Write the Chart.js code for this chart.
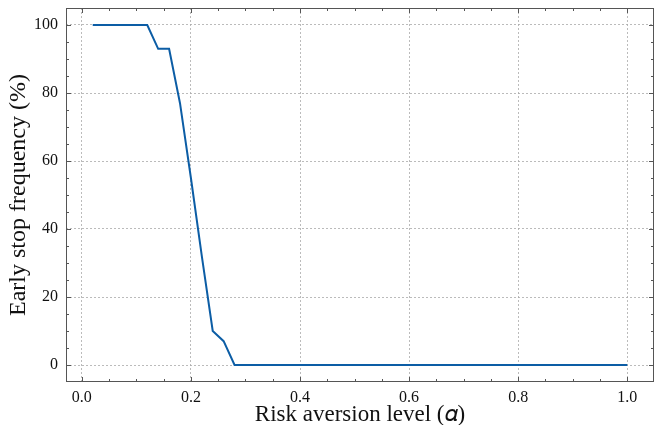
<!DOCTYPE html>
<html>
<head>
<meta charset="utf-8">
<script src="https://cdn.jsdelivr.net/npm/chart.js@4"></script>
<style>
  html, body { margin: 0; padding: 0; background: #fff; }
</style>
</head>
<body>
<canvas id="chart" width="655" height="425"></canvas>
<script>
// risk aversion levels 0.02 .. 1.00
const alphas = [0.02, 0.04, 0.06, 0.08, 0.10, 0.12, 0.14, 0.16, 0.18, 0.20,
                0.22, 0.24, 0.26, 0.28, 0.30, 0.32, 0.34, 0.36, 0.38, 0.40,
                0.42, 0.44, 0.46, 0.48, 0.50, 0.52, 0.54, 0.56, 0.58, 0.60,
                0.62, 0.64, 0.66, 0.68, 0.70, 0.72, 0.74, 0.76, 0.78, 0.80,
                0.82, 0.84, 0.86, 0.88, 0.90, 0.92, 0.94, 0.96, 0.98, 1.00];
const earlyStop = [100, 100, 100, 100, 100, 100, 93, 93, 77, 55,
                   32, 10, 7, 0, 0, 0, 0, 0, 0, 0,
                   0, 0, 0, 0, 0, 0, 0, 0, 0, 0,
                   0, 0, 0, 0, 0, 0, 0, 0, 0, 0,
                   0, 0, 0, 0, 0, 0, 0, 0, 0, 0];
const xTicks = [0.0, 0.2, 0.4, 0.6, 0.8, 1.0];
const yTicks = [0, 20, 40, 60, 80, 100];
const xMinor = [0.05, 0.1, 0.15, 0.25, 0.3, 0.35, 0.45, 0.5, 0.55, 0.65, 0.7, 0.75, 0.85, 0.9, 0.95];
const yMinor = [-5, 5, 10, 15, 25, 30, 35, 45, 50, 55, 65, 70, 75, 85, 90, 95, 105];

const serif = "'Liberation Serif', 'DejaVu Serif', serif";

// frame on all four sides with inward major/minor ticks
const frameTicks = {
    id: "frameTicks",
    afterDraw(chart) {
        const { ctx, chartArea: a, scales } = chart;
        ctx.save();
        ctx.strokeStyle = "#555";
        ctx.lineWidth = 1;
        ctx.strokeRect(a.left + 0.5, a.top + 0.5, a.right - a.left - 1, a.bottom - a.top - 1);
        ctx.beginPath();
        const tick = (vals, len, horiz) => {
            vals.forEach(v => {
                if (horiz) {
                    const x = Math.round(scales.x.getPixelForValue(v)) + 0.5;
                    if (x < a.left || x > a.right) return;
                    ctx.moveTo(x, a.bottom); ctx.lineTo(x, a.bottom - len);
                    ctx.moveTo(x, a.top); ctx.lineTo(x, a.top + len);
                } else {
                    const y = Math.round(scales.y.getPixelForValue(v)) + 0.5;
                    if (y < a.top || y > a.bottom) return;
                    ctx.moveTo(a.left, y); ctx.lineTo(a.left + len, y);
                    ctx.moveTo(a.right, y); ctx.lineTo(a.right - len, y);
                }
            });
        };
        tick(xTicks, 5, true);
        tick(xMinor, 3, true);
        tick(yTicks, 5, false);
        tick(yMinor, 3, false);
        ctx.stroke();
        ctx.restore();
    }
};

// drop the automatic label padding so the plot box sits where the reference has it
const noPad = s => { s.paddingTop = 0; s.paddingBottom = 0; s.paddingLeft = 0; s.paddingRight = 0; };

new Chart(document.getElementById("chart"), {
    type: "line",
    data: {
        datasets: [{
            data: alphas.map((a, i) => ({ x: a, y: earlyStop[i] })),
            borderColor: "#0C5DA5",
            borderWidth: 2,
            pointRadius: 0,
            tension: 0,
            fill: false
        }]
    },
    options: {
        responsive: false,
        animation: false,
        devicePixelRatio: 1,
        layout: { padding: { top: 8, right: 1, left: 0, bottom: 0 } },
        plugins: { legend: { display: false }, tooltip: { enabled: false } },
        scales: {
            x: {
                type: "linear",
                min: -0.029,
                max: 1.049,
                afterBuildTicks: s => { s.ticks = xTicks.map(v => ({ value: v })); },
                afterFit: s => { s.height = 43; noPad(s); },
                grid: { color: "#aaa", lineWidth: 0.8, drawTicks: false },
                border: { display: false, dash: [2, 2] },
                ticks: {
                    padding: 6,
                    color: "#111",
                    font: { family: serif, size: 16 },
                    callback: v => v.toFixed(1)
                },
                title: {
                    display: true,
                    text: "Risk aversion level (\u{1D6FC})",
                    color: "#111",
                    padding: { top: 0, bottom: 0 },
                    font: { family: serif, size: 23, lineHeight: 0.85 }
                }
            },
            y: {
                min: -5,
                max: 105,
                afterBuildTicks: s => { s.ticks = yTicks.map(v => ({ value: v })); },
                afterFit: s => { s.width = 66; noPad(s); },
                grid: { color: "#aaa", lineWidth: 0.8, drawTicks: false },
                border: { display: false, dash: [2, 2] },
                ticks: {
                    padding: 8,
                    color: "#111",
                    font: { family: serif, size: 16 }
                },
                title: {
                    display: true,
                    text: "Early stop frequency (%)",
                    color: "#111",
                    padding: { top: 7, bottom: 0 },
                    font: { family: serif, size: 24, lineHeight: 1.0 }
                }
            }
        }
    },
    plugins: [frameTicks]
});
</script>
</body>
</html>
